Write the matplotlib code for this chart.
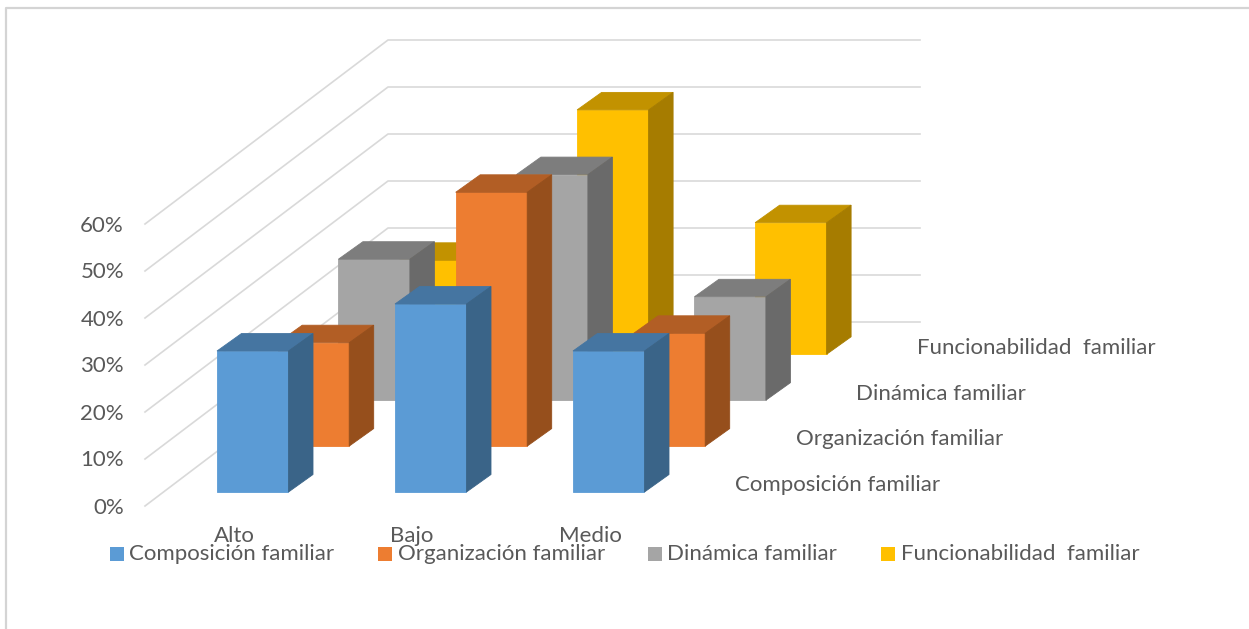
# -*- coding: utf-8 -*-
"""3D clustered columns, excel style, drawn as an oblique projection on a flat axes."""
import matplotlib; matplotlib.use("Agg")
import matplotlib.pyplot as plt
from matplotlib.patches import Polygon, Rectangle

categories = ["Alto", "Bajo", "Medio"]
series = ["Composición familiar", "Organización familiar", "Dinámica familiar", "Funcionabilidad  familiar"]
composicion = [30, 40, 30]
organizacion = [22, 54, 24]
dinamica = [30, 48, 22]
funcionabilidad = [20, 52, 28]
y_ticks = [0, 10, 20, 30, 40, 50, 60]
values = [composicion, organizacion, dinamica, funcionabilidad]

FACE = ["#5B9BD5", "#ED7D31", "#A5A5A5", "#FFC000"]
TOP = ["#4575A1", "#B25E25", "#7D7D7D", "#C29200"]
SIDE = ["#3A6488", "#964F1C", "#6A6A6A", "#A67C00"]
TXT = "#595959"; GRID = "#D9D9D9"; FRAME = "#D4D4D4"; FS = 16

# projection, in picture pixels
X0, Y0 = 217, 492; CAT_DX = 178; SER_DX, SER_DY = 60.7, 45.9; BAR_W = 71.5; BAR_DX, BAR_DY = 24.5, 17.5; PX_PCT = 4.7
WALL_X, WALL_Y = 145, 506; WALL_DX, WALL_DY = 243, 184; WALL_END = 920

plt.rcParams["font.family"] = ["Lato", "DejaVu Sans"]
fig = plt.figure(figsize=(12.49, 6.29), dpi=100)
ax = fig.add_axes([0, 0, 1, 1])
ax.set_xlim(0, 1249); ax.set_ylim(629, 0); ax.axis("off")

# chart frame, only top and left show
ax.plot([6, 6, 1249], [629, 8, 8], color=FRAME, lw=1.6)

def proj(c, s, v):
    return X0 + c * CAT_DX + s * SER_DX, Y0 - s * SER_DY - v * PX_PCT

for t in y_ticks:
    y = WALL_Y - t * PX_PCT
    ax.plot([WALL_X, WALL_X + WALL_DX, WALL_END], [y, y - WALL_DY, y - WALL_DY], color=GRID, lw=1.2, zorder=1)
    ax.text(124, y + 1.5, f"{t}%", ha="right", va="center", fontsize=FS, color=TXT)

def bar(c, s, v):
    x, yb = proj(c, s, 0); _, yt = proj(c, s, v); z = 2 + (3 - s)
    kw = dict(closed=True, zorder=z, lw=0.6)
    ax.add_patch(Polygon([(x, yb), (x + BAR_W, yb), (x + BAR_W, yt), (x, yt)], fc=FACE[s], ec=FACE[s], **kw))
    ax.add_patch(Polygon([(x, yt), (x + BAR_W, yt), (x + BAR_W + BAR_DX, yt - BAR_DY), (x + BAR_DX, yt - BAR_DY)], fc=TOP[s], ec=TOP[s], **kw))
    ax.add_patch(Polygon([(x + BAR_W, yb), (x + BAR_W + BAR_DX, yb - BAR_DY), (x + BAR_W + BAR_DX, yt - BAR_DY), (x + BAR_W, yt)], fc=SIDE[s], ec=SIDE[s], **kw))

for s in range(3, -1, -1):
    for c in range(len(categories)):
        bar(c, s, values[s][c])

# category and depth labels
for c, name in enumerate(categories):
    x, _ = proj(c, 0, 0)
    ax.text(x + 17, 536, name, ha="center", va="center", fontsize=FS, color=TXT, zorder=12)
for s, name in enumerate(series):
    ax.text(735 + s * 60.7, 485 - s * 45.7, name, ha="left", va="center", fontsize=FS, color=TXT, zorder=12)

# legend
leg_box = [110, 378, 648, 881]; leg_txt = [129, 398, 667, 901]
for s, name in enumerate(series):
    ax.add_patch(Rectangle((leg_box[s], 547), 14, 14, fc=FACE[s], ec="none", zorder=12))
    ax.text(leg_txt[s], 554.5, name, ha="left", va="center", fontsize=FS, color=TXT, zorder=13)

fig.savefig("out.png", dpi=100)
